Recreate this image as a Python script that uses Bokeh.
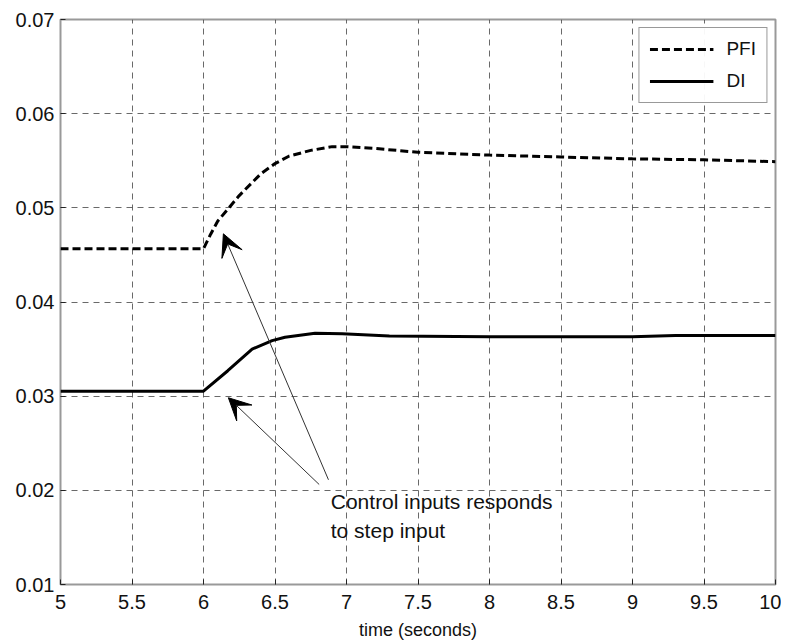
from bokeh.plotting import figure
from bokeh.models import FixedTicker, Legend, LegendItem, Arrow, VeeHead, Label
from bokeh.embed import file_html
from bokeh.resources import INLINE

# data
t_pfi = [5.0, 6.0, 6.05, 6.1, 6.25, 6.4, 6.5, 6.6, 6.75, 6.9, 7.0, 7.2, 7.5, 8.0, 8.5, 9.0, 9.5, 10.0]
pfi = [0.04565, 0.04565, 0.0472, 0.0486, 0.0513, 0.0536, 0.0547, 0.0555, 0.0561, 0.0565,
       0.0565, 0.0563, 0.0559, 0.0556, 0.0554, 0.0552, 0.0551, 0.0549]
t_di = [5.0, 6.0, 6.17, 6.34, 6.48, 6.57, 6.78, 6.97, 7.3, 8.0, 9.0, 9.3, 10.0]
di = [0.03053, 0.03053, 0.0327, 0.0350, 0.0359, 0.03626, 0.03669, 0.03662, 0.03640,
      0.03630, 0.03630, 0.03645, 0.03645]
x_ticks = [5, 5.5, 6, 6.5, 7, 7.5, 8, 8.5, 9, 9.5, 10]
y_ticks = [0.01, 0.02, 0.03, 0.04, 0.05, 0.06, 0.07]
x_tick_labels = {5: "5", 5.5: "5.5", 6: "6", 6.5: "6.5", 7: "7", 7.5: "7.5",
                 8: "8", 8.5: "8.5", 9: "9", 9.5: "9.5", 10: "10"}
annotation_text = "Control inputs responds\nto step input"
arrow_tails = [(6.874, 0.02112), (6.809, 0.02062)]
arrow_heads = [(6.139, 0.04724), (6.174, 0.02983)]
text_pos = (6.89, 0.0200)

FONT = "Liberation Sans"

p = figure(frame_width=715, frame_height=565, x_range=(5, 10), y_range=(0.01, 0.07),
           output_backend="svg", toolbar_location=None,
           min_border_left=60, min_border_right=6, min_border_top=19, min_border_bottom=40)

p.outline_line_color = "#999999"
p.outline_line_width = 2

for ax in (p.xaxis, p.yaxis):
    ax.major_label_text_font = FONT
    ax.major_label_text_font_size = "20px"
    ax.major_label_text_color = "#111111"
    ax.axis_line_color = None
    ax.major_tick_in = 5
    ax.major_tick_out = 0
    ax.minor_tick_line_color = None
    ax.major_tick_line_color = "#222222"
p.yaxis.major_label_standoff = 6
p.xaxis.major_label_standoff = 10

p.xaxis.ticker = FixedTicker(ticks=x_ticks)
p.xaxis.major_label_overrides = x_tick_labels
p.yaxis.ticker = FixedTicker(ticks=y_ticks)
p.xaxis.axis_label = "time (seconds)"
p.xaxis.axis_label_text_font = FONT
p.xaxis.axis_label_text_font_style = "normal"
p.xaxis.axis_label_text_font_size = "18px"
p.xaxis.axis_label_text_color = "#111111"
p.xaxis.axis_label_standoff = 8

p.xgrid.ticker = FixedTicker(ticks=x_ticks)
p.ygrid.ticker = FixedTicker(ticks=y_ticks)
for g in (p.xgrid, p.ygrid):
    g.grid_line_color = "#444444"
    g.grid_line_dash = "6 5"
    g.grid_line_width = 1
    g.grid_line_alpha = 0.8

r_pfi = p.line(t_pfi, pfi, line_color="black", line_width=3, line_dash="8 4")
r_di = p.line(t_di, di, line_color="black", line_width=3)

for (tx, ty), (hx, hy) in zip(arrow_tails, arrow_heads):
    p.add_layout(Arrow(x_start=tx, y_start=ty, x_end=hx, y_end=hy,
                       line_color="#333333", line_width=1,
                       end=VeeHead(size=22, fill_color="black", line_color="black")))

p.add_layout(Label(x=text_pos[0], y=text_pos[1], text=annotation_text,
                   text_font=FONT, text_font_size="21px", text_color="#111111",
                   text_baseline="top", text_line_height=1.24))

legend = Legend(items=[LegendItem(label="PFI", renderers=[r_pfi]),
                       LegendItem(label="DI", renderers=[r_di])],
                location="top_right")
legend.label_text_font = FONT
legend.label_text_font_size = "19px"
legend.label_text_color = "#111111"
legend.border_line_color = "#333333"
legend.border_line_width = 1
legend.glyph_width = 64
legend.glyph_height = 20
legend.label_height = 20
legend.label_standoff = 13
legend.spacing = 10
legend.padding = 10
legend.margin = 8
p.add_layout(legend)

open("out.html", "w").write(file_html(p, INLINE))
